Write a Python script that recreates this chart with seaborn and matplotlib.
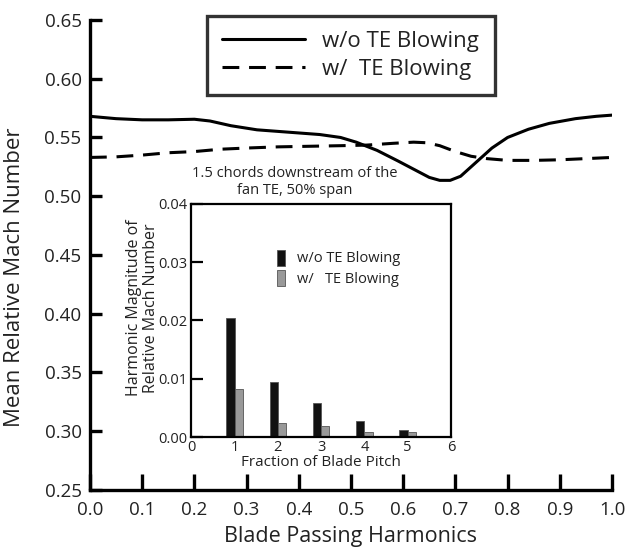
import numpy as np
import pandas as pd
import matplotlib
matplotlib.use("Agg")
import matplotlib.pyplot as plt
import seaborn as sns

# Main chart data
harm_solid = [0.00, 0.05, 0.10, 0.15, 0.20, 0.23, 0.27, 0.32, 0.38, 0.44, 0.48, 0.51, 0.55, 0.59, 0.62, 0.65,
              0.67, 0.69, 0.71, 0.73, 0.75, 0.77, 0.80, 0.84, 0.88, 0.93, 0.97, 1.00]
mach_solid = [0.568, 0.566, 0.565, 0.565, 0.5655, 0.564, 0.560, 0.5565, 0.5545, 0.5525, 0.550, 0.546, 0.539, 0.530,
              0.523, 0.516, 0.5135, 0.5135, 0.517, 0.525, 0.533, 0.541, 0.550, 0.557, 0.562, 0.566, 0.568, 0.569]
harm_dash = [0.00, 0.05, 0.10, 0.15, 0.20, 0.25, 0.30, 0.36, 0.42, 0.48, 0.53, 0.58, 0.62, 0.645, 0.67, 0.70,
             0.73, 0.76, 0.80, 0.85, 0.90, 0.95, 1.00]
mach_dash = [0.533, 0.5335, 0.535, 0.537, 0.538, 0.540, 0.541, 0.542, 0.5425, 0.543, 0.5435, 0.545, 0.546, 0.5455,
             0.543, 0.538, 0.534, 0.532, 0.5305, 0.5305, 0.531, 0.532, 0.533]
series_names = ["w/o TE Blowing", "w/  TE Blowing"]
x_ticks = [0.0, 0.1, 0.2, 0.3, 0.4, 0.5, 0.6, 0.7, 0.8, 0.9, 1.0]
y_ticks = [0.25, 0.30, 0.35, 0.40, 0.45, 0.50, 0.55, 0.60, 0.65]

# Inset data
pitch = [1, 2, 3, 4, 5]
mag_without = [0.0205, 0.0095, 0.0059, 0.0028, 0.0012]
mag_with = [0.0083, 0.0024, 0.0019, 0.0009, 0.0009]
inset_names = ["w/o TE Blowing", "w/   TE Blowing"]
inset_xticks = [0, 1, 2, 3, 4, 5, 6]
inset_yticks = [0.0, 0.01, 0.02, 0.03, 0.04]

sns.set_style("ticks")
plt.rcParams['font.family'] = ['Open Sans', 'DejaVu Sans']
txt = "#222222"

fig = plt.figure(figsize=(6.29, 5.54), dpi=100)
ax = fig.add_axes([0.143, 0.1155, 0.830, 0.8485])

df_s = pd.DataFrame({"x": harm_solid, "y": mach_solid})
df_d = pd.DataFrame({"x": harm_dash, "y": mach_dash})
sns.lineplot(data=df_s, x="x", y="y", ax=ax, color="black", lw=2.2, label=series_names[0])
sns.lineplot(data=df_d, x="x", y="y", ax=ax, color="black", lw=2.2, label=series_names[1])
ax.lines[1].set_dashes([5.5, 3.2])

ax.set_xlim(0, 1.0)
ax.set_ylim(0.25, 0.65)
ax.set_xticks(x_ticks)
ax.set_yticks(y_ticks)
ax.set_xticklabels([f"{v:.1f}" for v in x_ticks])
ax.set_yticklabels([f"{v:.2f}" for v in y_ticks])
for s in ["top", "right"]:
    ax.spines[s].set_visible(False)
for s in ["left", "bottom"]:
    ax.spines[s].set_linewidth(2.4)
    ax.spines[s].set_color("black")
ax.tick_params(axis="both", length=0, labelsize=13.5, labelcolor=txt)
ax.tick_params(axis="x", pad=8)
ax.tick_params(axis="y", pad=6)
# inward tick marks at the tick positions
ax.vlines(x_ticks, 0, 16 / 470, transform=ax.get_xaxis_transform(), colors="black",
          linewidth=2.4, clip_on=False, zorder=4)
ax.hlines(y_ticks, 0, 12 / 522, transform=ax.get_yaxis_transform(), colors="black",
          linewidth=2.4, clip_on=False, zorder=4)
ax.set_xlabel("Blade Passing Harmonics", fontsize=15.5, color=txt, labelpad=5)
ax.set_ylabel("Mean Relative Mach Number", fontsize=16, color=txt)
ax.yaxis.set_label_coords(-0.125, 0.453)
leg = ax.legend(loc="upper left", bbox_to_anchor=(0.224, 1.009), fontsize=16, frameon=True,
                fancybox=False, edgecolor="black", handlelength=3.7, borderpad=0.7, labelspacing=0.3,
                handletextpad=0.8, borderaxespad=0)
leg.get_frame().set_linewidth(2.4)
for t in leg.get_texts():
    t.set_color(txt)

# Inset
ins = fig.add_axes([0.304, 0.211, 0.413, 0.421])
bar_df = pd.DataFrame({
    "pitch": pitch + pitch,
    "mag": mag_without + mag_with,
    "case": [inset_names[0]] * len(pitch) + [inset_names[1]] * len(pitch),
})
sns.barplot(data=bar_df, x="pitch", y="mag", hue="case", native_scale=True,
            palette=["#111111", "#999999"], width=0.38, ax=ins, edgecolor="#555555", linewidth=0.6)
ins.set_xlim(0, 6)
ins.set_ylim(0, 0.04)
ins.set_xticks(inset_xticks)
ins.set_yticks(inset_yticks)
ins.set_yticklabels([f"{v:.2f}" for v in inset_yticks])
for s in ins.spines.values():
    s.set_visible(True)
    s.set_linewidth(1.6)
    s.set_color("black")
ins.tick_params(axis="both", length=0, labelsize=10.5, labelcolor=txt)
ins.tick_params(axis="x", pad=2)
ins.tick_params(axis="y", pad=3)
ins.hlines(inset_yticks, 0, 12 / 260, transform=ins.get_yaxis_transform(), colors="black",
           linewidth=1.6, clip_on=False, zorder=4)
ins.set_xlabel("Fraction of Blade Pitch", fontsize=11, color=txt, labelpad=0)
ins.set_ylabel("Harmonic Magnitude of\nRelative Mach Number", fontsize=11.5, color=txt, linespacing=1.1)
ins.yaxis.set_label_coords(-0.125, 0.554)
ins.text(0.40, 1.025, "1.5 chords downstream of the\nfan TE, 50% span", transform=ins.transAxes,
         ha="center", va="bottom", fontsize=10.5, color=txt, linespacing=1.2)
il = ins.legend(loc="upper left", bbox_to_anchor=(0.28, 0.86), frameon=False, fontsize=10.5,
                handlelength=0.55, handleheight=1.3, handletextpad=0.8, labelspacing=0.25)
for t in il.get_texts():
    t.set_color(txt)

fig.savefig("out.png", dpi=100)
